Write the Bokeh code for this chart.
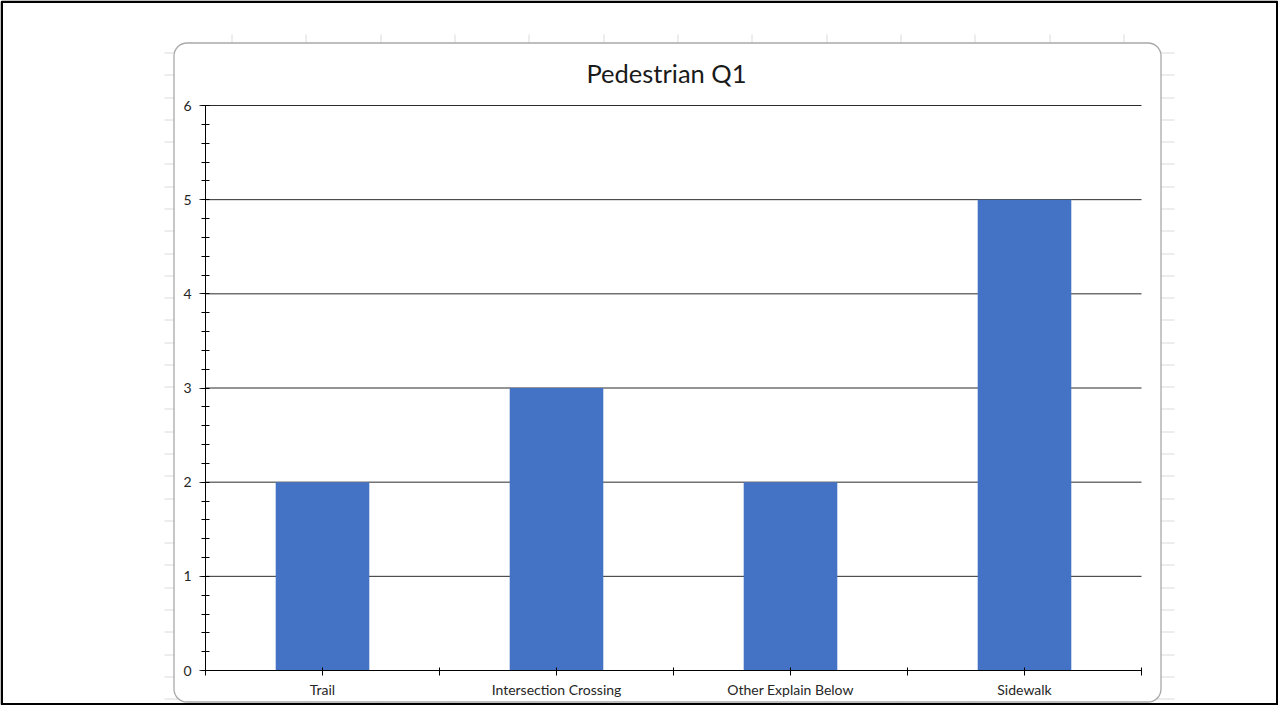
from bokeh.plotting import figure
from bokeh.models import LinearAxis, FixedTicker, Range1d, ColumnDataSource
from bokeh.embed import file_html
from bokeh.resources import INLINE
from bokeh.core.properties import value

# ---- data ----
categories = ["Trail", "Intersection Crossing", "Other Explain Below", "Sidewalk"]
counts = [2, 3, 2, 5]
y_ticks = [0, 1, 2, 3, 4, 5, 6]
title_text = "Pedestrian Q1"

# ---- layout (canvas pixels) ----
W, H = 1278, 705
PL, PR, PT, PB = 205, 1141, 105, 670     # plot area
FONT = "Lato"

n = len(categories)
ymax = y_ticks[-1]
sxu = (PR - PL) / n
syu = (PB - PT) / ymax
x0 = -PL / sxu
y0 = -(H - PB) / syu


def dx(px):
    return x0 + px / sxu


def dy(py):
    return y0 + (H - py) / syu


# the frame fills the whole canvas; axes are fixed inside it
p = figure(width=W, height=H, output_backend="svg", toolbar_location=None,
           x_range=Range1d(x0, x0 + W / sxu), y_range=Range1d(y0, y0 + H / syu),
           x_axis_location=None, y_axis_location=None,
           min_border=0, min_border_left=0, min_border_right=0,
           min_border_top=0, min_border_bottom=0)
p.outline_line_color = None
p.background_fill_color = "white"
p.border_fill_color = "white"
p.xgrid.visible = False
p.ygrid.visible = False

# ---- decorations: spreadsheet grid ring, chart box, outer frame ----
GRID_C = "#dadada"
CB_L, CB_T, CB_R, CB_B = 173, 42, 1160, H - 4
RING_L, RING_T, RING_R, RING_B = 164, 34, 1174, H

vx = []
k = 0
while 231 + 74.33 * k <= RING_R:
    vx.append(round(231 + 74.33 * k) + 0.5)
    k += 1
hy = []
k = 0
while 52 + 22.28 * k < RING_B:
    hy.append(round(52 + 22.28 * k) + 0.5)
    k += 1

p.segment(x0=[dx(v) for v in vx], x1=[dx(v) for v in vx],
          y0=[dy(RING_T)] * len(vx), y1=[dy(RING_B)] * len(vx),
          line_color=GRID_C, line_width=1)
p.segment(x0=[dx(RING_L)] * len(hy), x1=[dx(RING_R)] * len(hy),
          y0=[dy(v) for v in hy], y1=[dy(v) for v in hy],
          line_color=GRID_C, line_width=1)

p.quad(left=[dx(CB_L + 0.5)], right=[dx(CB_R + 0.5)], top=[dy(CB_T + 0.5)], bottom=[dy(CB_B + 0.5)],
       fill_color="white", line_color="#a9a9a9", line_width=1.3, border_radius=13)

p.quad(left=[dx(1.25)], right=[dx(W - 1.25)], top=[dy(1.25)], bottom=[dy(H - 1.25)],
       fill_color=None, line_color="black", line_width=2.5)

p.text(x=[dx(666)], y=[dy(72)], text=[title_text], text_align="center",
       text_baseline="middle", text_font=value(FONT), text_font_size="25.5px",
       text_color="#1a1a1a")

# ---- gridlines ----
p.segment(x0=[0] * len(y_ticks), x1=[n] * len(y_ticks), y0=y_ticks, y1=y_ticks,
          line_color="#2b2b2b", line_width=1)

# ---- bars ----
centers = [i + 0.5 for i in range(n)]
src = ColumnDataSource(dict(x=centers, top=counts))
p.vbar(x="x", top="top", width=0.4, bottom=0, source=src,
       fill_color="#4472C4", line_color=None)

# ---- axes ----
xt = []
overrides = {}
for i in range(n + 1):
    xt.append(i)
    overrides[i] = ""
for i, c in enumerate(categories):
    xt.append(i + 0.5)
    overrides[i + 0.5] = c
xaxis = LinearAxis(fixed_location=0, bounds=(0, n), ticker=FixedTicker(ticks=sorted(xt)),
                   major_label_overrides=overrides,
                   major_tick_in=3, major_tick_out=5, minor_tick_line_color=None,
                   axis_line_color="black", major_tick_line_color="black",
                   major_label_standoff=5, major_label_text_font=FONT,
                   major_label_text_font_size="14px", major_label_text_color="#262626")
p.add_layout(xaxis, "below")

minor = [j * 0.2 for j in range(int(ymax * 5) + 1)]
yaxis = LinearAxis(fixed_location=0, bounds=(0, ymax),
                   ticker=FixedTicker(ticks=y_ticks, minor_ticks=minor),
                   major_tick_in=0, major_tick_out=6, minor_tick_in=4, minor_tick_out=4,
                   axis_line_color="black", major_tick_line_color="#333333",
                   minor_tick_line_color="black", major_label_standoff=8,
                   major_label_text_font=FONT, major_label_text_font_size="14px",
                   major_label_text_color="#262626")
p.add_layout(yaxis, "left")

open("out.html", "w").write(file_html(p, INLINE))
